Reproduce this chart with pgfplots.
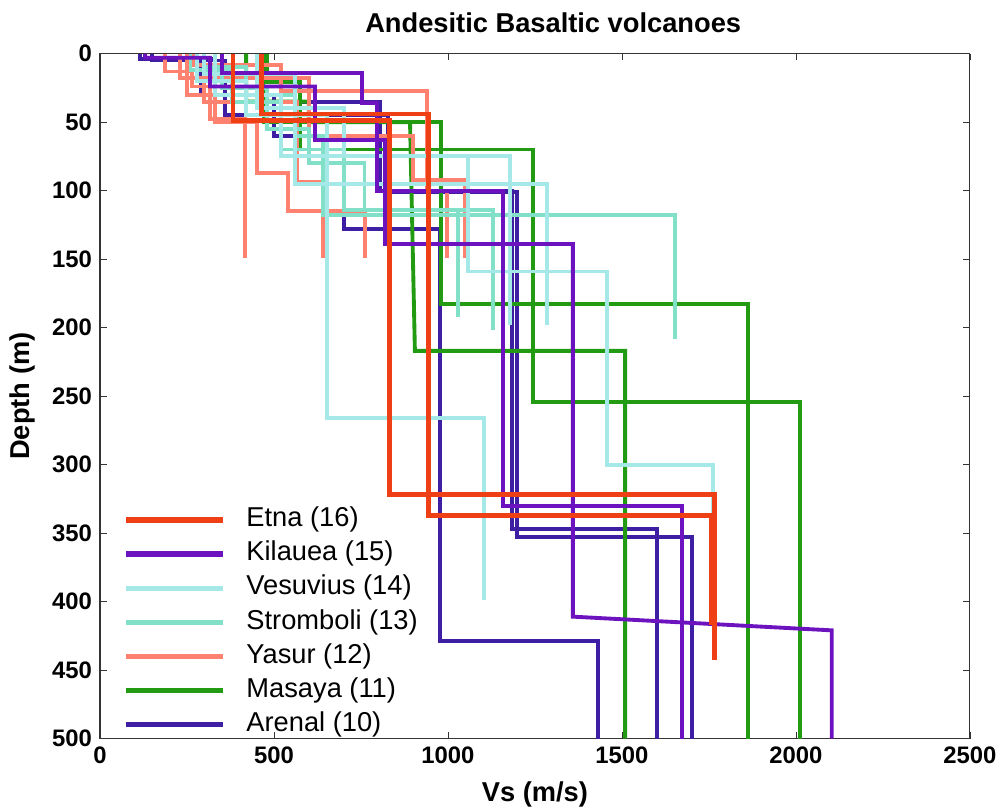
\documentclass[border=0pt]{standalone}
\usepackage{fontspec}
\setmainfont{Liberation Sans}
\usepackage{pgfplots}
\pgfplotsset{compat=1.18}

\definecolor{etna}{RGB}{238,64,20}
\definecolor{kilauea}{RGB}{108,18,190}
\definecolor{vesuvius}{RGB}{164,232,232}
\definecolor{stromboli}{RGB}{130,224,200}
\definecolor{yasur}{RGB}{255,130,112}
\definecolor{masaya}{RGB}{34,154,18}
\definecolor{arenal}{RGB}{62,30,162}

\begin{document}
\begin{tikzpicture}
\path[use as bounding box] (-44pt,-31pt) rectangle (397.8pt,325pt);
\begin{axis}[
    at={(0,0)}, anchor=south west,
    scale only axis, width=382.8pt, height=301.4pt,
    xmin=0, xmax=2500, ymin=0, ymax=500,
    y dir=reverse,
    xtick={0,500,...,2500}, ytick={0,50,...,500},
    axis line style={black!80, line width=0.5pt},
    major tick length=3pt, tick style={black!80},
    /pgf/number format/assume math mode=true,
    /pgf/number format/set thousands separator={},
    ticklabel style={font=\bfseries\fontsize{10.5}{12}\selectfont},
    title={Andesitic Basaltic volcanoes},
    every axis title shift=0pt,
    title style={font=\bfseries\fontsize{12}{14}\selectfont, at={(axis description cs:0.521,1.0315)}, anchor=base},
    xlabel={Vs (m/s)},
    xlabel style={font=\bfseries\fontsize{12}{14}\selectfont, at={(axis description cs:0.5,-0.0912)}, anchor=base},
    ylabel={Depth (m)},
    ylabel style={font=\bfseries\fontsize{12}{14}\selectfont, at={(axis description cs:-0.081,0.5)}, anchor=base, rotate=0},
    reverse legend,
    legend cell align=left,
    legend image code/.code={\draw[#1, line width=2.3pt] (0pt,0pt) -- (43pt,0pt);},
    legend style={at={(axis description cs:0.026,0.0)}, anchor=south west,
        draw=none, fill=none, inner sep=0pt, row sep=3pt,
        font=\fontsize{12}{14}\selectfont,
        nodes={inner sep=0pt, text height=9pt, text depth=3pt},
        /tikz/every odd column/.append style={column sep=9pt}},
    every axis plot/.append style={line width=1.7pt, line join=miter},
]
% Arenal (10)
\addplot[arenal] coordinates {(115,0) (115,4) (290,4) (290,30) (500,30) (500,60) (701,60) (701,128) (977,128) (977,429) (1431,429) (1431,500)};
\addlegendentry{Arenal (10)}
\addplot[arenal, forget plot] coordinates {(130,0) (130,4) (330,4) (330,35) (805,35) (805,100) (1184,100) (1184,347) (1600,347) (1600,500)};
\addplot[arenal, forget plot] coordinates {(150,0) (150,5) (360,5) (360,45) (828,45) (828,101) (1198,101) (1198,353) (1701,353) (1701,500)};
% Masaya (11)
\addplot[masaya] coordinates {(480,0) (480,21) (575,21) (575,70) (1244,70) (1244,254) (2011,254) (2011,500)};
\addlegendentry{Masaya (11)}
\addplot[masaya, forget plot] coordinates {(470,0) (470,50) (980,50) (980,183) (1862,183) (1862,500)};
\addplot[masaya, forget plot] coordinates {(420,0) (420,35) (600,35) (600,50) (891,50) (905,217) (1509,217) (1509,500)};
% Yasur (12)
\addplot[yasur] coordinates {(187,0) (187,13) (264,13) (264,24) (316,24) (316,48) (417,48) (417,149)};
\addlegendentry{Yasur (12)}
\addplot[yasur, forget plot] coordinates {(250,0) (250,30) (330,30) (330,50) (451,50) (451,87) (540,87) (540,115) (761,115) (761,149)};
\addplot[yasur, forget plot] coordinates {(300,0) (300,35) (566,35) (566,94) (641,94) (641,149)};
\addplot[yasur, forget plot] coordinates {(270,0) (270,8) (520,8) (520,27) (940,27) (940,100) (997,100) (997,149)};
\addplot[yasur, forget plot] coordinates {(230,0) (230,18) (600,18) (600,60) (900,60) (900,92) (1049,92) (1049,149)};
% Stromboli (13)
\addplot[stromboli] coordinates {(300,0) (300,10) (420,10) (420,30) (560,30) (560,60) (640,60) (640,118) (1652,118) (1652,208)};
\addlegendentry{Stromboli (13)}
\addplot[stromboli, forget plot] coordinates {(260,0) (260,12) (380,12) (380,35) (520,35) (520,70) (700,70) (700,114) (1029,114) (1029,192)};
\addplot[stromboli, forget plot] coordinates {(350,0) (350,25) (480,25) (480,55) (600,55) (600,80) (760,80) (760,114) (1129,114) (1129,202)};
% Vesuvius (14)
\addplot[vesuvius] coordinates {(280,0) (280,20) (420,20) (420,45) (652,45) (652,266) (1103,266) (1103,399)};
\addlegendentry{Vesuvius (14)}
\addplot[vesuvius, forget plot] coordinates {(330,0) (330,30) (520,30) (520,75) (1057,75) (1057,159) (1457,159) (1457,300) (1761,300) (1761,335)};
\addplot[vesuvius, forget plot] coordinates {(300,0) (300,15) (560,15) (560,95) (1284,95) (1284,198)};
\addplot[vesuvius, forget plot] coordinates {(450,0) (450,40) (700,40) (700,75) (1178,75) (1178,198)};
% Kilauea (15)
\addplot[kilauea] coordinates {(350,0) (350,14) (753,14) (753,36) (796,36) (796,100) (1158,100) (1158,330) (1672,330) (1672,500)};
\addlegendentry{Kilauea (15)}
\addplot[kilauea, forget plot] coordinates {(130,0) (130,3) (316,3) (316,24) (618,24) (618,63) (819,63) (819,139) (1359,139) (1359,411) (2103,421) (2103,500)};
% Etna (16)
\addplot[etna, line width=2.1pt] coordinates {(382,0) (382,49) (833,49) (833,322) (1767,322) (1767,443)};
\addlegendentry{Etna (16)}
\addplot[etna, line width=2.1pt, forget plot] coordinates {(465,0) (465,44) (943,44) (943,337) (1756,337) (1756,417)};
\end{axis}
\end{tikzpicture}
\end{document}
